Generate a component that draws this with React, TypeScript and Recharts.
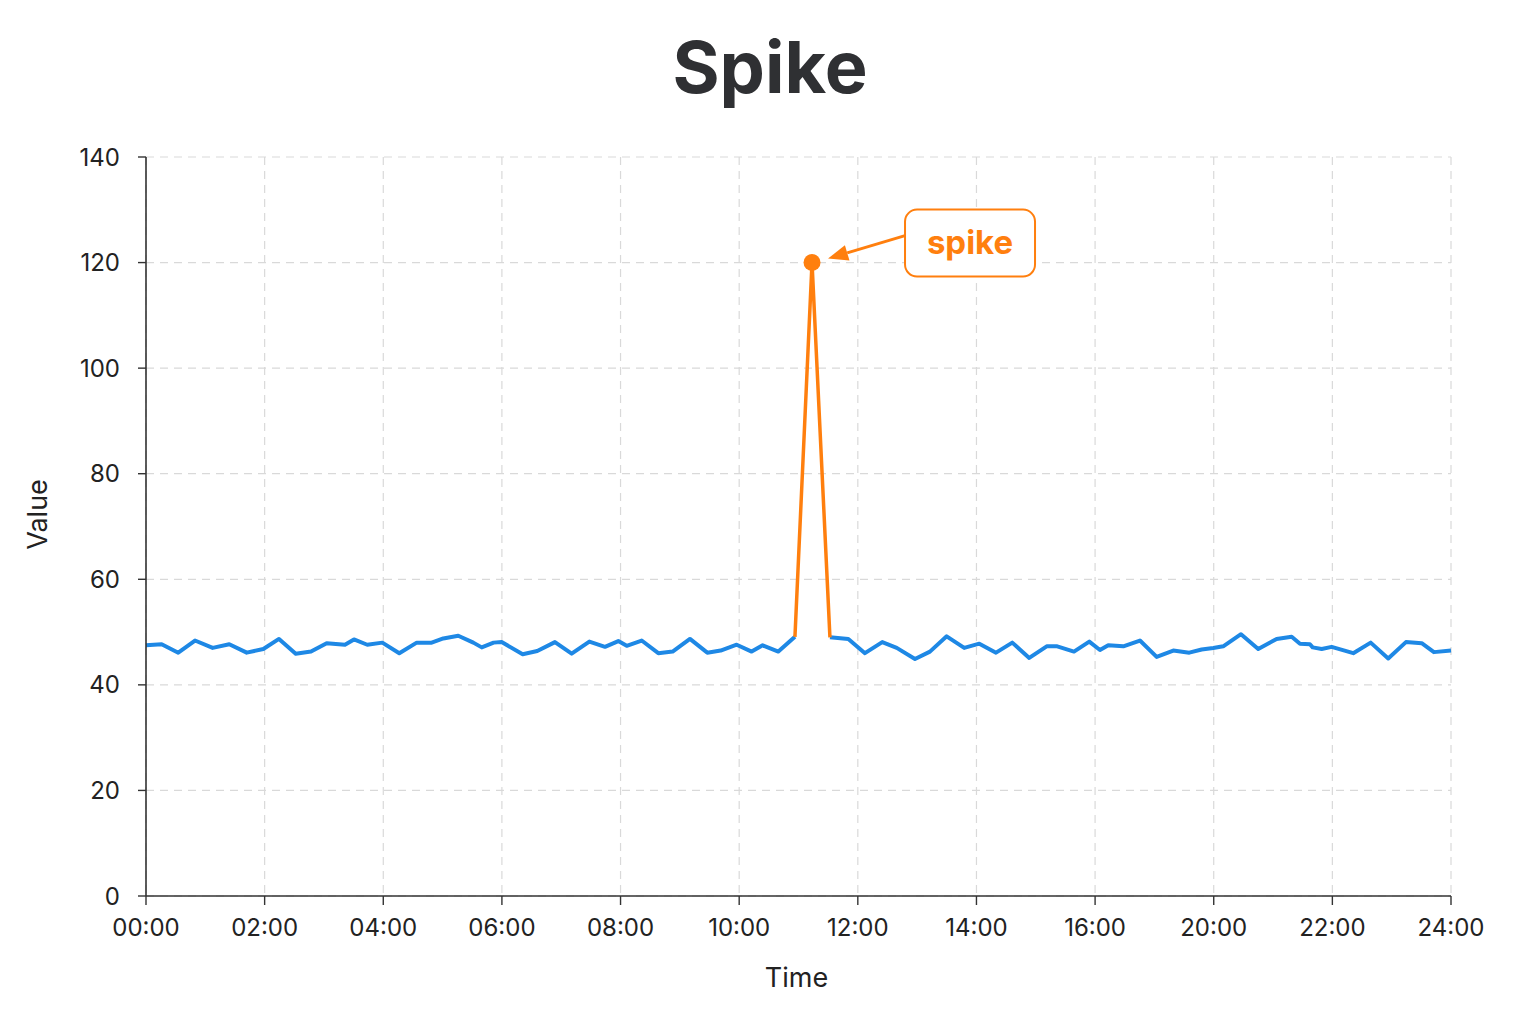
import React from "react";
import { LineChart, Line, XAxis, YAxis, CartesianGrid, ReferenceDot, Label } from "recharts";

// Tick labels as printed on the reference x axis (evenly spaced slots)
const TICK_LABELS = ["00:00", "02:00", "04:00", "06:00", "08:00", "10:00", "12:00", "14:00", "16:00", "20:00", "22:00", "24:00"];
const TICK_POSITIONS = [0, 1, 2, 3, 4, 5, 6, 7, 8, 9, 10, 11];
const Y_TICKS = [0, 20, 40, 60, 80, 100, 120, 140];

// Sample positions (in x-axis tick slots) and values
const POSITIONS = [
  0.0, 0.132, 0.272, 0.413, 0.562, 0.702, 0.849, 0.989, 1.121, 1.262,
  1.391, 1.523, 1.677, 1.753, 1.865, 1.992, 2.135, 2.282, 2.408, 2.506,
  2.632, 2.759, 2.83, 2.93, 2.998, 3.175, 3.298, 3.447, 3.588, 3.737,
  3.869, 3.981, 4.052, 4.178, 4.318, 4.439, 4.585, 4.731, 4.844, 4.979,
  5.105, 5.198, 5.33, 5.47, 5.614, 5.765, 5.92, 6.06, 6.206, 6.328,
  6.482, 6.608, 6.749, 6.897, 7.024, 7.165, 7.302, 7.445, 7.592, 7.681,
  7.822, 7.951, 8.041, 8.111, 8.238, 8.378, 8.519, 8.659, 8.794, 8.898,
  8.996, 9.08, 9.23, 9.375, 9.53, 9.657, 9.727, 9.811, 9.834, 9.91,
  9.994, 10.176, 10.323, 10.471, 10.62, 10.753, 10.856, 11.0,
];
const VALUES = [
  47.5, 47.7, 46.1, 48.4, 47.0, 47.7, 46.1, 46.8, 48.7, 45.9,
  46.3, 47.9, 47.6, 48.6, 47.6, 48.0, 46.0, 48.0, 48.0, 48.8,
  49.3, 48.0, 47.1, 48.0, 48.1, 45.8, 46.4, 48.1, 45.9, 48.2,
  47.2, 48.3, 47.4, 48.4, 46.0, 46.3, 48.7, 46.1, 46.5, 47.6,
  46.3, 47.5, 46.3, 49.1, 120.0, 49.0, 48.7, 46.0, 48.1, 47.0,
  44.9, 46.3, 49.2, 47.0, 47.8, 46.1, 48.0, 45.1, 47.3, 47.3,
  46.3, 48.2, 46.6, 47.5, 47.3, 48.4, 45.3, 46.5, 46.1, 46.7,
  47.0, 47.3, 49.6, 46.8, 48.7, 49.1, 47.8, 47.7, 47.1, 46.8,
  47.2, 46.0, 48.0, 45.0, 48.1, 47.9, 46.2, 46.5,
];
const SPIKE_INDEX = 44;
const SPIKE_LABEL = "spike";

const BLUE = "#1e88e5";
const ORANGE = "#ff7f0e";
const FONT = "Inter, 'Noto Sans', sans-serif";

const data = POSITIONS.map((t, i) => ({
  t,
  base: i === SPIKE_INDEX ? null : VALUES[i],
  spike: Math.abs(i - SPIKE_INDEX) <= 1 ? VALUES[i] : null,
}));

const SpikeMarker = (props: any) => {
  const { cx, cy } = props;
  if (cx == null || cy == null) return null;
  const sx = cx + 93;
  const sy = cy - 27;
  const tx = cx + 16;
  const ty = cy - 4;
  const ang = Math.atan2(ty - sy, tx - sx);
  const L = 20;
  const W = 8;
  const bx = tx - L * Math.cos(ang);
  const by = ty - L * Math.sin(ang);
  const p1x = bx + W * Math.sin(ang);
  const p1y = by - W * Math.cos(ang);
  const p2x = bx - W * Math.sin(ang);
  const p2y = by + W * Math.cos(ang);
  return (
    <g>
      <circle cx={cx} cy={cy} r={8.5} fill={ORANGE} />
      <line x1={sx} y1={sy} x2={bx} y2={by} stroke={ORANGE} strokeWidth={3} />
      <polygon points={`${tx},${ty} ${p1x},${p1y} ${p2x},${p2y}`} fill={ORANGE} />
      <rect x={cx + 93} y={cy - 53} width={130} height={67} rx={12} ry={12} fill="#fff" stroke={ORANGE} strokeWidth={2} />
      <text
        x={cx + 158}
        y={cy - 21}
        textAnchor="middle"
        dominantBaseline="central"
        fontSize={33}
        fontWeight={700}
        fill={ORANGE}
        fontFamily={FONT}
      >
        {SPIKE_LABEL}
      </text>
    </g>
  );
};

const YTitle = (props: any) => {
  const vb = props.viewBox || { x: 0, y: 149, width: 138, height: 739 };
  const x = vb.x + 29;
  const y = vb.y + vb.height / 2 - 12;
  return (
    <text
      x={x}
      y={y}
      transform={`rotate(-90, ${x}, ${y})`}
      textAnchor="middle"
      dominantBaseline="central"
      fontSize={27}
      fill="#222"
      fontFamily={FONT}
    >
      Value
    </text>
  );
};

const XTitle = (props: any) => {
  const vb = props.viewBox || { x: 138, y: 888, width: 1305, height: 60 };
  const x = vb.x + vb.width / 2 - 2;
  const y = vb.y + 81;
  return (
    <text x={x} y={y} textAnchor="middle" dominantBaseline="central" fontSize={27} fill="#222" fontFamily={FONT}>
      Time
    </text>
  );
};

export default function App() {
  return (
    <div style={{ position: "relative", width: 1520, height: 1008, fontFamily: FONT, background: "#fff" }}>
      <div
        style={{
          position: "absolute",
          top: 23,
          left: 2,
          width: 1520,
          textAlign: "center",
          fontSize: 72,
          lineHeight: "72px",
          fontWeight: 700,
          color: "#2f3033",
          fontFamily: FONT,
        }}
      >
        Spike
      </div>
      <LineChart
        width={1520}
        height={1008}
        data={data}
        margin={{ top: 149, right: 77, bottom: 60, left: 0 }}
        style={{ fontFamily: FONT }}
      >
        <CartesianGrid stroke="#d9d9d9" strokeDasharray="8 6" strokeWidth={1.2} />
        <XAxis
          dataKey="t"
          type="number"
          domain={[0, 11]}
          ticks={TICK_POSITIONS}
          interval={0}
          tickFormatter={(v: number) => TICK_LABELS[Math.round(v)]}
          height={60}
          tickSize={9}
          tickMargin={14}
          axisLine={{ stroke: "#333", strokeWidth: 1.6 }}
          tickLine={{ stroke: "#333", strokeWidth: 1.4 }}
          tick={{ fill: "#222", fontSize: 24, fontFamily: FONT }}
        >
          <Label content={<XTitle />} />
        </XAxis>
        <YAxis
          type="number"
          domain={[0, 140]}
          ticks={Y_TICKS}
          interval={0}
          width={138}
          tickSize={8}
          tickMargin={18}
          axisLine={{ stroke: "#333", strokeWidth: 1.6 }}
          tickLine={{ stroke: "#333", strokeWidth: 1.4 }}
          tick={{ fill: "#222", fontSize: 24, fontFamily: FONT }}
        >
          <Label content={<YTitle />} />
        </YAxis>
        <Line
          type="linear"
          dataKey="base"
          stroke={BLUE}
          strokeWidth={4}
          dot={false}
          activeDot={false}
          isAnimationActive={false}
          connectNulls={false}
          strokeLinejoin="round"
        />
        <Line
          type="linear"
          dataKey="spike"
          stroke={ORANGE}
          strokeWidth={3.5}
          dot={false}
          activeDot={false}
          isAnimationActive={false}
          connectNulls={false}
          strokeLinejoin="round"
        />
        <ReferenceDot
          x={POSITIONS[SPIKE_INDEX]}
          y={VALUES[SPIKE_INDEX]}
          r={8.5}
          ifOverflow="visible"
          shape={<SpikeMarker />}
        />
      </LineChart>
    </div>
  );
}
